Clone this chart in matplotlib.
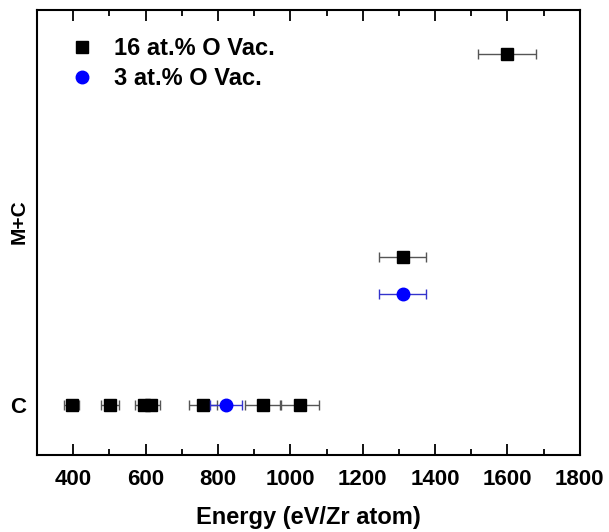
import numpy as np
import matplotlib
matplotlib.use('Agg')
import matplotlib.pyplot as plt
from matplotlib.ticker import MultipleLocator
from matplotlib.lines import Line2D

plt.rcParams['font.family'] = ['Liberation Sans', 'DejaVu Sans']
plt.rcParams['font.weight'] = 'bold'

## Data (y: C = 0, M+C = 1)
vac16_x   = [395, 502, 595, 615, 759, 923, 1027, 1310, 1600]
vac16_y   = [0, 0, 0, 0, 0, 0, 0, 0.81, 1.92]
vac16_err = [22, 25, 25, 25, 38, 48, 52, 65, 80]

vac3_x    = [822, 1310]
vac3_y    = [0, 0.61]
vac3_err  = [44, 65]

fig = plt.figure(figsize=(6.09, 5.32), dpi=100)
ax = fig.add_axes([0.061, 0.145, 0.891, 0.836])

ax.errorbar(vac16_x, vac16_y, xerr=vac16_err, fmt='s', color='black', ms=8,
            ecolor='#555555', elinewidth=1, capsize=3.5, capthick=1, zorder=3)
ax.errorbar(vac3_x, vac3_y, xerr=vac3_err, fmt='o', color='blue', ms=9,
            ecolor='#3333cc', elinewidth=1, capsize=3.5, capthick=1, zorder=4)

ax.set_xlim(300, 1800)
ax.set_ylim(-0.27, 2.16)
ax.xaxis.set_major_locator(MultipleLocator(200))
ax.xaxis.set_minor_locator(MultipleLocator(100))
ax.tick_params(axis='x', which='both', direction='in', top=True, bottom=True,
               labelsize=16, width=1.3)
ax.tick_params(axis='x', which='major', length=8, pad=10)
ax.tick_params(axis='x', which='minor', length=4)
ax.set_yticks([0])
ax.set_yticklabels(['C'])
ax.tick_params(axis='y', which='both', length=0, labelsize=16, pad=8)
for sp in ax.spines.values():
    sp.set_linewidth(1.5)

ax.set_xlabel('Energy (eV/Zr atom)', fontsize=17, fontweight='bold', labelpad=12)
ax.set_ylabel('M+C', fontsize=15, fontweight='bold')
ax.yaxis.set_label_coords(-0.016, 0.524)

handles = [Line2D([], [], ls='none', marker='s', color='black', ms=8),
           Line2D([], [], ls='none', marker='o', color='blue', ms=9)]
ax.legend(handles, ['16 at.% O Vac.', '3 at.% O Vac.'], loc='upper left',
          frameon=False, fontsize=17, handletextpad=0.75, handlelength=1.2,
          labelspacing=0.3, bbox_to_anchor=(0.030, 0.971), borderaxespad=0.2)

fig.savefig('out.png', dpi=100)
